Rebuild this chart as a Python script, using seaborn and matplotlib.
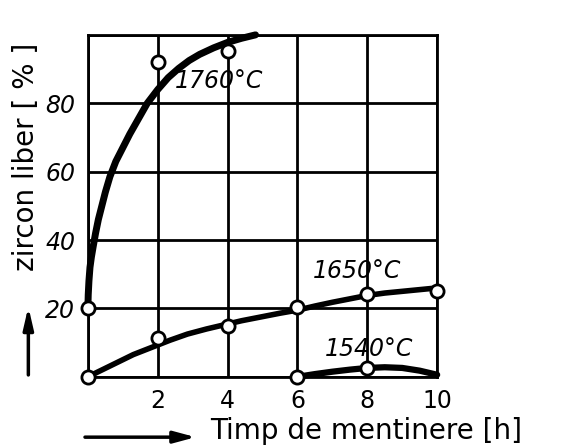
import matplotlib
matplotlib.use("Agg")
import matplotlib.pyplot as plt
import seaborn as sns
import pandas as pd

# ---- data ----
# smooth curves (traced)
c1760_x = [0, 0.01, 0.03, 0.06, 0.1, 0.15, 0.22, 0.3, 0.4, 0.5, 0.63, 0.8, 1.0,
           1.2, 1.45, 1.7, 2.0, 2.3, 2.6, 2.9, 3.2, 3.6, 4.0, 4.4, 4.8]
c1760_y = [20, 24, 28, 32, 35, 38, 42, 46, 50, 54, 58.5, 63, 67,
           71, 75.5, 80, 84, 87.5, 90.2, 92.5, 94.3, 96.2, 97.8, 99, 100]
c1650_x = [0, 0.4, 0.8, 1.3, 1.85, 2.35, 2.85, 3.4, 3.9, 4.4, 4.95, 5.5, 6,
           6.5, 7, 7.5, 8, 8.5, 9, 9.5, 10]
c1650_y = [0, 2, 4, 6.5, 8.7, 10.7, 12.5, 14, 15.2, 16.4, 17.5, 18.6, 19.5,
           20.7, 21.8, 22.8, 23.8, 24.5, 25, 25.5, 26]
c1540_x = [6, 6.5, 7, 7.5, 8, 8.5, 9, 9.5, 10]
c1540_y = [0, 0.8, 1.5, 2.1, 2.6, 2.8, 2.6, 1.8, 0.6]
# measured points (open circles)
p1760_x = [0, 2, 4]
p1760_y = [20, 92, 95.4]
p1650_x = [0, 2, 4, 6, 8, 10]
p1650_y = [0, 11.3, 14.9, 20.3, 24.3, 25]
p1540_x = [6, 8]
p1540_y = [0, 2.5]

series_labels = ["1760°C", "1650°C", "1540°C"]
label_pos_x = [3.75, 7.7, 8.05]
label_pos_y = [86.5, 31, 8]

x_ticks = [0, 2, 4, 6, 8, 10]
x_ticklabels = ["", "2", "4", "6", "8", "10"]
y_ticks = [0, 20, 40, 60, 80, 100]
y_ticklabels = ["", "20", "40", "60", "80", ""]

x_title = "Timp de mentinere [h]"
y_title = "zircon liber [ % ]"

# ---- plotting ----
sns.set_style("white")
plt.rcParams["font.family"] = ["DejaVu Sans"]

fig = plt.figure(figsize=(5.67, 4.47), dpi=100)
ax = fig.add_axes([0.155, 0.157, 0.616, 0.765])

curves = [(c1760_x, c1760_y, 5.0), (c1650_x, c1650_y, 4.0), (c1540_x, c1540_y, 4.5)]
for cx, cy, lw in curves:
    df = pd.DataFrame({"x": cx, "y": cy})
    sns.lineplot(data=df, x="x", y="y", ax=ax, color="black", lw=lw,
                 sort=False, estimator=None, clip_on=False, zorder=3,
                 solid_joinstyle="round", solid_capstyle="round")

for px, py in [(p1760_x, p1760_y), (p1650_x, p1650_y), (p1540_x, p1540_y)]:
    dfp = pd.DataFrame({"x": px, "y": py})
    sns.scatterplot(data=dfp, x="x", y="y", ax=ax, s=90, facecolor="white",
                    edgecolor="black", linewidth=2.0, clip_on=False, zorder=4)

for lab, lx, ly in zip(series_labels, label_pos_x, label_pos_y):
    ax.text(lx, ly, lab, fontsize=17, style="italic", ha="center", va="center",
            color="black", zorder=5)

ax.set_xlim(0, 10)
ax.set_ylim(0, 100)
ax.set_xticks(x_ticks)
ax.set_xticklabels(x_ticklabels, fontsize=17, color="black")
ax.set_yticks(y_ticks)
ax.set_yticklabels(y_ticklabels, fontsize=17, style="italic", color="black")
ax.tick_params(axis="both", length=0, pad=9, colors="black")
ax.grid(True, color="black", lw=2)
for sp in ax.spines.values():
    sp.set_color("black")
    sp.set_linewidth(2)
ax.set_xlabel("")
ax.set_ylabel("")

# axis titles with arrows
fig.text(0.37, 0.035, x_title, fontsize=20, ha="left", va="center", color="black")
ax.annotate("", xy=(0.35, 0.022), xytext=(0.145, 0.022), xycoords="figure fraction",
            arrowprops=dict(arrowstyle="-|>,head_length=1.3,head_width=0.35",
                            color="black", lw=2.5))
fig.text(0.045, 0.65, y_title, fontsize=20, rotation=90, ha="center", va="center",
         color="black")
ax.annotate("", xy=(0.05, 0.32), xytext=(0.05, 0.155), xycoords="figure fraction",
            arrowprops=dict(arrowstyle="-|>,head_length=1.3,head_width=0.3",
                            color="black", lw=2.5))

fig.savefig("out.png", dpi=100, facecolor="white")
